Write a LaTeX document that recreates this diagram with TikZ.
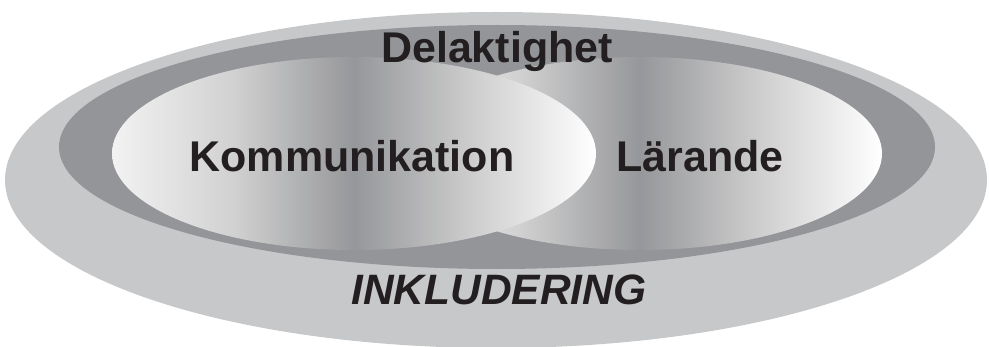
\documentclass[tikz,border=0pt]{standalone}
\usepackage{fontspec}
\setmainfont{Liberation Sans}
\usepackage{tikz}
\usetikzlibrary{shapes.geometric}
\definecolor{ringlight}{RGB}{199,200,202}
\definecolor{ringdark}{RGB}{147,149,152}
\definecolor{shadedark}{RGB}{150,151,154}
\definecolor{textblack}{RGB}{35,31,32}
\pgfdeclarehorizontalshading{lensshade}{100bp}{
  color(0bp)=(white!95!black); color(25bp)=(white!95!black);
  color(37.5bp)=(black!18); color(50bp)=(shadedark);
  color(62.5bp)=(black!19); color(75bp)=(white); color(100bp)=(white)}
\tikzset{
every picture/.style={x=1pt, y=1pt},
ringnode/.style={ellipse, inner sep=0pt, draw=none},
lensnode/.style={ellipse, inner sep=0pt, draw=none, shading=lensshade,
  minimum width=484pt, minimum height=193pt},
labelnode/.style={anchor=base, inner sep=0pt, text=textblack,
  font=\fontsize{43}{43}\selectfont\bfseries}
}

\begin{document}
\begin{tikzpicture}
\clip (0,0) rectangle (989,346);
%Shapes
\node (outer) [ringnode, fill=ringlight, minimum width=982pt, minimum height=336pt] at (496,166) {};
\node (band) [ringnode, fill=ringdark, minimum width=876pt, minimum height=244pt] at (497,199) {};
\node (learnlens) [lensnode] at (640,192.5) {};
\node (commlens) [lensnode] at (354,192.5) {};

%Nodes
\node (delak) [labelnode] at (497,283) {Delaktighet};
\node (komm) [labelnode] at (352,175) {Kommunikation};
\node (lar) [labelnode] at (700,175) {Lärande};
\node (inkl) [labelnode, font=\fontsize{42.5}{42.5}\selectfont\bfseries\itshape] at (499,42) {INKLUDERING};
\end{tikzpicture}
\end{document}
